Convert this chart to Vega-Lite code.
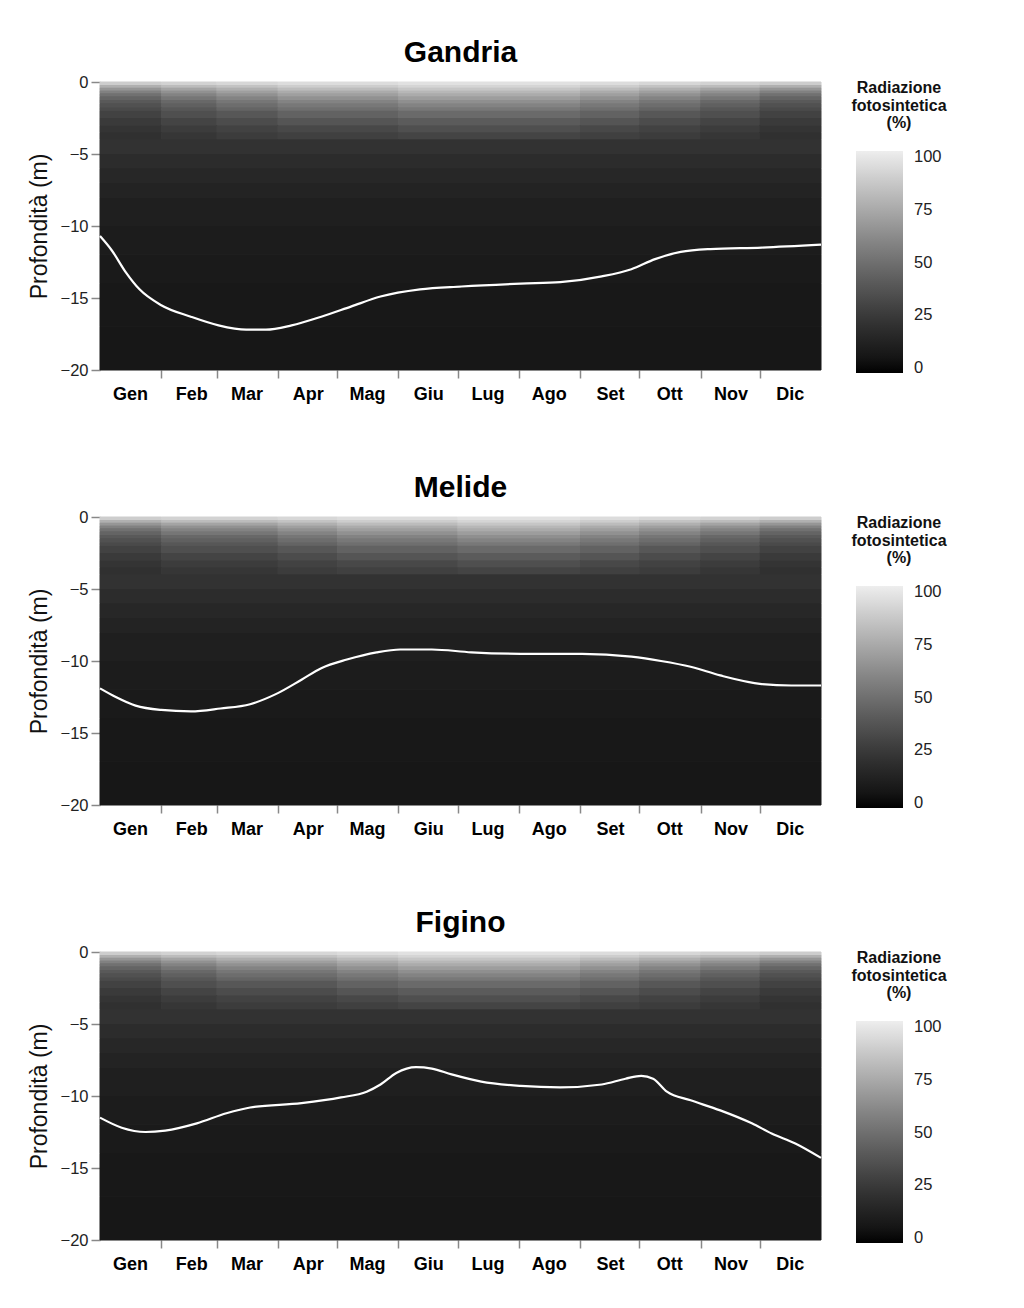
{
"$schema": "https://vega.github.io/schema/vega-lite/v6.json",
"padding": {"left": 28, "top": 38, "right": 5, "bottom": 5},
"background": "white",
"config": {
  "font": "Liberation Sans",
  "view": {"stroke": null},
  "axis": {"grid": false, "domain": false, "tickColor": "#888888", "tickWidth": 1.5},
  "title": {"fontSize": 30, "fontWeight": "bold", "font": "Liberation Sans", "anchor": "middle", "frame": "group", "offset": 6, "color": "#000000"}
},
"datasets": {
"heatG": [
{"day":0,"day2":31,"depth":0,"depth2":-0.2,"v":90},{"day":0,"day2":31,"depth":-0.2,"depth2":-0.4,"v":78},{"day":0,"day2":31,"depth":-0.4,"depth2":-0.6,"v":67},{"day":0,"day2":31,"depth":-0.6,"depth2":-0.8,"v":58},{"day":0,"day2":31,"depth":-0.8,"depth2":-1,"v":51},{"day":0,"day2":31,"depth":-1,"depth2":-1.25,"v":45},{"day":0,"day2":31,"depth":-1.25,"depth2":-1.5,"v":40},{"day":0,"day2":31,"depth":-1.5,"depth2":-1.75,"v":36},{"day":0,"day2":31,"depth":-1.75,"depth2":-2,"v":33},{"day":0,"day2":31,"depth":-2,"depth2":-2.5,"v":29},{"day":0,"day2":31,"depth":-2.5,"depth2":-3,"v":25},{"day":0,"day2":31,"depth":-3,"depth2":-3.5,"v":22},{"day":0,"day2":31,"depth":-3.5,"depth2":-4,"v":20},
{"day":31,"day2":59,"depth":0,"depth2":-0.2,"v":92},{"day":31,"day2":59,"depth":-0.2,"depth2":-0.4,"v":83},{"day":31,"day2":59,"depth":-0.4,"depth2":-0.6,"v":73},{"day":31,"day2":59,"depth":-0.6,"depth2":-0.8,"v":65},{"day":31,"day2":59,"depth":-0.8,"depth2":-1,"v":59},{"day":31,"day2":59,"depth":-1,"depth2":-1.25,"v":53},{"day":31,"day2":59,"depth":-1.25,"depth2":-1.5,"v":47},{"day":31,"day2":59,"depth":-1.5,"depth2":-1.75,"v":43},{"day":31,"day2":59,"depth":-1.75,"depth2":-2,"v":39},{"day":31,"day2":59,"depth":-2,"depth2":-2.5,"v":35},{"day":31,"day2":59,"depth":-2.5,"depth2":-3,"v":30},{"day":31,"day2":59,"depth":-3,"depth2":-3.5,"v":26},{"day":31,"day2":59,"depth":-3.5,"depth2":-4,"v":23},
{"day":59,"day2":90,"depth":0,"depth2":-0.2,"v":94},{"day":59,"day2":90,"depth":-0.2,"depth2":-0.4,"v":86},{"day":59,"day2":90,"depth":-0.4,"depth2":-0.6,"v":78},{"day":59,"day2":90,"depth":-0.6,"depth2":-0.8,"v":71},{"day":59,"day2":90,"depth":-0.8,"depth2":-1,"v":65},{"day":59,"day2":90,"depth":-1,"depth2":-1.25,"v":59},{"day":59,"day2":90,"depth":-1.25,"depth2":-1.5,"v":53},{"day":59,"day2":90,"depth":-1.5,"depth2":-1.75,"v":49},{"day":59,"day2":90,"depth":-1.75,"depth2":-2,"v":45},{"day":59,"day2":90,"depth":-2,"depth2":-2.5,"v":39},{"day":59,"day2":90,"depth":-2.5,"depth2":-3,"v":34},{"day":59,"day2":90,"depth":-3,"depth2":-3.5,"v":29},{"day":59,"day2":90,"depth":-3.5,"depth2":-4,"v":26},
{"day":90,"day2":151,"depth":0,"depth2":-0.2,"v":96},{"day":90,"day2":151,"depth":-0.2,"depth2":-0.4,"v":90},{"day":90,"day2":151,"depth":-0.4,"depth2":-0.6,"v":83},{"day":90,"day2":151,"depth":-0.6,"depth2":-0.8,"v":76},{"day":90,"day2":151,"depth":-0.8,"depth2":-1,"v":71},{"day":90,"day2":151,"depth":-1,"depth2":-1.25,"v":65},{"day":90,"day2":151,"depth":-1.25,"depth2":-1.5,"v":59},{"day":90,"day2":151,"depth":-1.5,"depth2":-1.75,"v":54},{"day":90,"day2":151,"depth":-1.75,"depth2":-2,"v":50},{"day":90,"day2":151,"depth":-2,"depth2":-2.5,"v":44},{"day":90,"day2":151,"depth":-2.5,"depth2":-3,"v":38},{"day":90,"day2":151,"depth":-3,"depth2":-3.5,"v":32},{"day":90,"day2":151,"depth":-3.5,"depth2":-4,"v":28},
{"day":151,"day2":243,"depth":0,"depth2":-0.2,"v":98},{"day":151,"day2":243,"depth":-0.2,"depth2":-0.4,"v":93},{"day":151,"day2":243,"depth":-0.4,"depth2":-0.6,"v":87},{"day":151,"day2":243,"depth":-0.6,"depth2":-0.8,"v":81},{"day":151,"day2":243,"depth":-0.8,"depth2":-1,"v":76},{"day":151,"day2":243,"depth":-1,"depth2":-1.25,"v":70},{"day":151,"day2":243,"depth":-1.25,"depth2":-1.5,"v":64},{"day":151,"day2":243,"depth":-1.5,"depth2":-1.75,"v":59},{"day":151,"day2":243,"depth":-1.75,"depth2":-2,"v":54},{"day":151,"day2":243,"depth":-2,"depth2":-2.5,"v":48},{"day":151,"day2":243,"depth":-2.5,"depth2":-3,"v":41},{"day":151,"day2":243,"depth":-3,"depth2":-3.5,"v":35},{"day":151,"day2":243,"depth":-3.5,"depth2":-4,"v":30},
{"day":243,"day2":273,"depth":0,"depth2":-0.2,"v":96},{"day":243,"day2":273,"depth":-0.2,"depth2":-0.4,"v":90},{"day":243,"day2":273,"depth":-0.4,"depth2":-0.6,"v":83},{"day":243,"day2":273,"depth":-0.6,"depth2":-0.8,"v":76},{"day":243,"day2":273,"depth":-0.8,"depth2":-1,"v":71},{"day":243,"day2":273,"depth":-1,"depth2":-1.25,"v":65},{"day":243,"day2":273,"depth":-1.25,"depth2":-1.5,"v":59},{"day":243,"day2":273,"depth":-1.5,"depth2":-1.75,"v":54},{"day":243,"day2":273,"depth":-1.75,"depth2":-2,"v":50},{"day":243,"day2":273,"depth":-2,"depth2":-2.5,"v":44},{"day":243,"day2":273,"depth":-2.5,"depth2":-3,"v":38},{"day":243,"day2":273,"depth":-3,"depth2":-3.5,"v":32},{"day":243,"day2":273,"depth":-3.5,"depth2":-4,"v":28},
{"day":273,"day2":304,"depth":0,"depth2":-0.2,"v":94},{"day":273,"day2":304,"depth":-0.2,"depth2":-0.4,"v":86},{"day":273,"day2":304,"depth":-0.4,"depth2":-0.6,"v":78},{"day":273,"day2":304,"depth":-0.6,"depth2":-0.8,"v":71},{"day":273,"day2":304,"depth":-0.8,"depth2":-1,"v":65},{"day":273,"day2":304,"depth":-1,"depth2":-1.25,"v":59},{"day":273,"day2":304,"depth":-1.25,"depth2":-1.5,"v":53},{"day":273,"day2":304,"depth":-1.5,"depth2":-1.75,"v":49},{"day":273,"day2":304,"depth":-1.75,"depth2":-2,"v":45},{"day":273,"day2":304,"depth":-2,"depth2":-2.5,"v":39},{"day":273,"day2":304,"depth":-2.5,"depth2":-3,"v":34},{"day":273,"day2":304,"depth":-3,"depth2":-3.5,"v":29},{"day":273,"day2":304,"depth":-3.5,"depth2":-4,"v":26},
{"day":304,"day2":334,"depth":0,"depth2":-0.2,"v":92},{"day":304,"day2":334,"depth":-0.2,"depth2":-0.4,"v":83},{"day":304,"day2":334,"depth":-0.4,"depth2":-0.6,"v":73},{"day":304,"day2":334,"depth":-0.6,"depth2":-0.8,"v":65},{"day":304,"day2":334,"depth":-0.8,"depth2":-1,"v":59},{"day":304,"day2":334,"depth":-1,"depth2":-1.25,"v":53},{"day":304,"day2":334,"depth":-1.25,"depth2":-1.5,"v":47},{"day":304,"day2":334,"depth":-1.5,"depth2":-1.75,"v":43},{"day":304,"day2":334,"depth":-1.75,"depth2":-2,"v":39},{"day":304,"day2":334,"depth":-2,"depth2":-2.5,"v":35},{"day":304,"day2":334,"depth":-2.5,"depth2":-3,"v":30},{"day":304,"day2":334,"depth":-3,"depth2":-3.5,"v":26},{"day":304,"day2":334,"depth":-3.5,"depth2":-4,"v":23},
{"day":334,"day2":365,"depth":0,"depth2":-0.2,"v":90},{"day":334,"day2":365,"depth":-0.2,"depth2":-0.4,"v":78},{"day":334,"day2":365,"depth":-0.4,"depth2":-0.6,"v":67},{"day":334,"day2":365,"depth":-0.6,"depth2":-0.8,"v":58},{"day":334,"day2":365,"depth":-0.8,"depth2":-1,"v":51},{"day":334,"day2":365,"depth":-1,"depth2":-1.25,"v":45},{"day":334,"day2":365,"depth":-1.25,"depth2":-1.5,"v":40},{"day":334,"day2":365,"depth":-1.5,"depth2":-1.75,"v":36},{"day":334,"day2":365,"depth":-1.75,"depth2":-2,"v":33},{"day":334,"day2":365,"depth":-2,"depth2":-2.5,"v":29},{"day":334,"day2":365,"depth":-2.5,"depth2":-3,"v":25},{"day":334,"day2":365,"depth":-3,"depth2":-3.5,"v":22},{"day":334,"day2":365,"depth":-3.5,"depth2":-4,"v":20},
{"day":0,"day2":365,"depth":-4,"depth2":-5,"v":21},{"day":0,"day2":365,"depth":-5,"depth2":-6,"v":18},{"day":0,"day2":365,"depth":-6,"depth2":-7,"v":15},{"day":0,"day2":365,"depth":-7,"depth2":-8,"v":13},{"day":0,"day2":365,"depth":-8,"depth2":-10,"v":11},{"day":0,"day2":365,"depth":-10,"depth2":-12,"v":9},{"day":0,"day2":365,"depth":-12,"depth2":-14,"v":8},{"day":0,"day2":365,"depth":-14,"depth2":-17,"v":7},{"day":0,"day2":365,"depth":-17,"depth2":-20,"v":6}
],
"heatM": [
{"day":0,"day2":31,"depth":0,"depth2":-0.2,"v":90},{"day":0,"day2":31,"depth":-0.2,"depth2":-0.4,"v":78},{"day":0,"day2":31,"depth":-0.4,"depth2":-0.6,"v":67},{"day":0,"day2":31,"depth":-0.6,"depth2":-0.8,"v":58},{"day":0,"day2":31,"depth":-0.8,"depth2":-1,"v":51},{"day":0,"day2":31,"depth":-1,"depth2":-1.25,"v":45},{"day":0,"day2":31,"depth":-1.25,"depth2":-1.5,"v":40},{"day":0,"day2":31,"depth":-1.5,"depth2":-1.75,"v":36},{"day":0,"day2":31,"depth":-1.75,"depth2":-2,"v":33},{"day":0,"day2":31,"depth":-2,"depth2":-2.5,"v":29},{"day":0,"day2":31,"depth":-2.5,"depth2":-3,"v":25},{"day":0,"day2":31,"depth":-3,"depth2":-3.5,"v":22},{"day":0,"day2":31,"depth":-3.5,"depth2":-4,"v":20},
{"day":31,"day2":90,"depth":0,"depth2":-0.2,"v":92},{"day":31,"day2":90,"depth":-0.2,"depth2":-0.4,"v":83},{"day":31,"day2":90,"depth":-0.4,"depth2":-0.6,"v":73},{"day":31,"day2":90,"depth":-0.6,"depth2":-0.8,"v":65},{"day":31,"day2":90,"depth":-0.8,"depth2":-1,"v":59},{"day":31,"day2":90,"depth":-1,"depth2":-1.25,"v":53},{"day":31,"day2":90,"depth":-1.25,"depth2":-1.5,"v":47},{"day":31,"day2":90,"depth":-1.5,"depth2":-1.75,"v":43},{"day":31,"day2":90,"depth":-1.75,"depth2":-2,"v":39},{"day":31,"day2":90,"depth":-2,"depth2":-2.5,"v":35},{"day":31,"day2":90,"depth":-2.5,"depth2":-3,"v":30},{"day":31,"day2":90,"depth":-3,"depth2":-3.5,"v":26},{"day":31,"day2":90,"depth":-3.5,"depth2":-4,"v":23},
{"day":90,"day2":120,"depth":0,"depth2":-0.2,"v":94},{"day":90,"day2":120,"depth":-0.2,"depth2":-0.4,"v":86},{"day":90,"day2":120,"depth":-0.4,"depth2":-0.6,"v":78},{"day":90,"day2":120,"depth":-0.6,"depth2":-0.8,"v":71},{"day":90,"day2":120,"depth":-0.8,"depth2":-1,"v":65},{"day":90,"day2":120,"depth":-1,"depth2":-1.25,"v":59},{"day":90,"day2":120,"depth":-1.25,"depth2":-1.5,"v":53},{"day":90,"day2":120,"depth":-1.5,"depth2":-1.75,"v":49},{"day":90,"day2":120,"depth":-1.75,"depth2":-2,"v":45},{"day":90,"day2":120,"depth":-2,"depth2":-2.5,"v":39},{"day":90,"day2":120,"depth":-2.5,"depth2":-3,"v":34},{"day":90,"day2":120,"depth":-3,"depth2":-3.5,"v":29},{"day":90,"day2":120,"depth":-3.5,"depth2":-4,"v":26},
{"day":120,"day2":181,"depth":0,"depth2":-0.2,"v":96},{"day":120,"day2":181,"depth":-0.2,"depth2":-0.4,"v":90},{"day":120,"day2":181,"depth":-0.4,"depth2":-0.6,"v":83},{"day":120,"day2":181,"depth":-0.6,"depth2":-0.8,"v":76},{"day":120,"day2":181,"depth":-0.8,"depth2":-1,"v":71},{"day":120,"day2":181,"depth":-1,"depth2":-1.25,"v":65},{"day":120,"day2":181,"depth":-1.25,"depth2":-1.5,"v":59},{"day":120,"day2":181,"depth":-1.5,"depth2":-1.75,"v":54},{"day":120,"day2":181,"depth":-1.75,"depth2":-2,"v":50},{"day":120,"day2":181,"depth":-2,"depth2":-2.5,"v":44},{"day":120,"day2":181,"depth":-2.5,"depth2":-3,"v":38},{"day":120,"day2":181,"depth":-3,"depth2":-3.5,"v":32},{"day":120,"day2":181,"depth":-3.5,"depth2":-4,"v":28},
{"day":181,"day2":243,"depth":0,"depth2":-0.2,"v":98},{"day":181,"day2":243,"depth":-0.2,"depth2":-0.4,"v":93},{"day":181,"day2":243,"depth":-0.4,"depth2":-0.6,"v":87},{"day":181,"day2":243,"depth":-0.6,"depth2":-0.8,"v":81},{"day":181,"day2":243,"depth":-0.8,"depth2":-1,"v":76},{"day":181,"day2":243,"depth":-1,"depth2":-1.25,"v":70},{"day":181,"day2":243,"depth":-1.25,"depth2":-1.5,"v":64},{"day":181,"day2":243,"depth":-1.5,"depth2":-1.75,"v":59},{"day":181,"day2":243,"depth":-1.75,"depth2":-2,"v":54},{"day":181,"day2":243,"depth":-2,"depth2":-2.5,"v":48},{"day":181,"day2":243,"depth":-2.5,"depth2":-3,"v":41},{"day":181,"day2":243,"depth":-3,"depth2":-3.5,"v":35},{"day":181,"day2":243,"depth":-3.5,"depth2":-4,"v":30},
{"day":243,"day2":273,"depth":0,"depth2":-0.2,"v":96},{"day":243,"day2":273,"depth":-0.2,"depth2":-0.4,"v":90},{"day":243,"day2":273,"depth":-0.4,"depth2":-0.6,"v":83},{"day":243,"day2":273,"depth":-0.6,"depth2":-0.8,"v":76},{"day":243,"day2":273,"depth":-0.8,"depth2":-1,"v":71},{"day":243,"day2":273,"depth":-1,"depth2":-1.25,"v":65},{"day":243,"day2":273,"depth":-1.25,"depth2":-1.5,"v":59},{"day":243,"day2":273,"depth":-1.5,"depth2":-1.75,"v":54},{"day":243,"day2":273,"depth":-1.75,"depth2":-2,"v":50},{"day":243,"day2":273,"depth":-2,"depth2":-2.5,"v":44},{"day":243,"day2":273,"depth":-2.5,"depth2":-3,"v":38},{"day":243,"day2":273,"depth":-3,"depth2":-3.5,"v":32},{"day":243,"day2":273,"depth":-3.5,"depth2":-4,"v":28},
{"day":273,"day2":304,"depth":0,"depth2":-0.2,"v":94},{"day":273,"day2":304,"depth":-0.2,"depth2":-0.4,"v":86},{"day":273,"day2":304,"depth":-0.4,"depth2":-0.6,"v":78},{"day":273,"day2":304,"depth":-0.6,"depth2":-0.8,"v":71},{"day":273,"day2":304,"depth":-0.8,"depth2":-1,"v":65},{"day":273,"day2":304,"depth":-1,"depth2":-1.25,"v":59},{"day":273,"day2":304,"depth":-1.25,"depth2":-1.5,"v":53},{"day":273,"day2":304,"depth":-1.5,"depth2":-1.75,"v":49},{"day":273,"day2":304,"depth":-1.75,"depth2":-2,"v":45},{"day":273,"day2":304,"depth":-2,"depth2":-2.5,"v":39},{"day":273,"day2":304,"depth":-2.5,"depth2":-3,"v":34},{"day":273,"day2":304,"depth":-3,"depth2":-3.5,"v":29},{"day":273,"day2":304,"depth":-3.5,"depth2":-4,"v":26},
{"day":304,"day2":334,"depth":0,"depth2":-0.2,"v":92},{"day":304,"day2":334,"depth":-0.2,"depth2":-0.4,"v":83},{"day":304,"day2":334,"depth":-0.4,"depth2":-0.6,"v":73},{"day":304,"day2":334,"depth":-0.6,"depth2":-0.8,"v":65},{"day":304,"day2":334,"depth":-0.8,"depth2":-1,"v":59},{"day":304,"day2":334,"depth":-1,"depth2":-1.25,"v":53},{"day":304,"day2":334,"depth":-1.25,"depth2":-1.5,"v":47},{"day":304,"day2":334,"depth":-1.5,"depth2":-1.75,"v":43},{"day":304,"day2":334,"depth":-1.75,"depth2":-2,"v":39},{"day":304,"day2":334,"depth":-2,"depth2":-2.5,"v":35},{"day":304,"day2":334,"depth":-2.5,"depth2":-3,"v":30},{"day":304,"day2":334,"depth":-3,"depth2":-3.5,"v":26},{"day":304,"day2":334,"depth":-3.5,"depth2":-4,"v":23},
{"day":334,"day2":365,"depth":0,"depth2":-0.2,"v":90},{"day":334,"day2":365,"depth":-0.2,"depth2":-0.4,"v":78},{"day":334,"day2":365,"depth":-0.4,"depth2":-0.6,"v":67},{"day":334,"day2":365,"depth":-0.6,"depth2":-0.8,"v":58},{"day":334,"day2":365,"depth":-0.8,"depth2":-1,"v":51},{"day":334,"day2":365,"depth":-1,"depth2":-1.25,"v":45},{"day":334,"day2":365,"depth":-1.25,"depth2":-1.5,"v":40},{"day":334,"day2":365,"depth":-1.5,"depth2":-1.75,"v":36},{"day":334,"day2":365,"depth":-1.75,"depth2":-2,"v":33},{"day":334,"day2":365,"depth":-2,"depth2":-2.5,"v":29},{"day":334,"day2":365,"depth":-2.5,"depth2":-3,"v":25},{"day":334,"day2":365,"depth":-3,"depth2":-3.5,"v":22},{"day":334,"day2":365,"depth":-3.5,"depth2":-4,"v":20},
{"day":0,"day2":365,"depth":-4,"depth2":-5,"v":21},{"day":0,"day2":365,"depth":-5,"depth2":-6,"v":18},{"day":0,"day2":365,"depth":-6,"depth2":-7,"v":15},{"day":0,"day2":365,"depth":-7,"depth2":-8,"v":13},{"day":0,"day2":365,"depth":-8,"depth2":-10,"v":11},{"day":0,"day2":365,"depth":-10,"depth2":-12,"v":9},{"day":0,"day2":365,"depth":-12,"depth2":-14,"v":8},{"day":0,"day2":365,"depth":-14,"depth2":-17,"v":7},{"day":0,"day2":365,"depth":-17,"depth2":-20,"v":6}
],
"heatF": [
{"day":0,"day2":31,"depth":0,"depth2":-0.2,"v":90},{"day":0,"day2":31,"depth":-0.2,"depth2":-0.4,"v":78},{"day":0,"day2":31,"depth":-0.4,"depth2":-0.6,"v":67},{"day":0,"day2":31,"depth":-0.6,"depth2":-0.8,"v":58},{"day":0,"day2":31,"depth":-0.8,"depth2":-1,"v":51},{"day":0,"day2":31,"depth":-1,"depth2":-1.25,"v":45},{"day":0,"day2":31,"depth":-1.25,"depth2":-1.5,"v":40},{"day":0,"day2":31,"depth":-1.5,"depth2":-1.75,"v":36},{"day":0,"day2":31,"depth":-1.75,"depth2":-2,"v":33},{"day":0,"day2":31,"depth":-2,"depth2":-2.5,"v":29},{"day":0,"day2":31,"depth":-2.5,"depth2":-3,"v":25},{"day":0,"day2":31,"depth":-3,"depth2":-3.5,"v":22},{"day":0,"day2":31,"depth":-3.5,"depth2":-4,"v":20},
{"day":31,"day2":59,"depth":0,"depth2":-0.2,"v":92},{"day":31,"day2":59,"depth":-0.2,"depth2":-0.4,"v":83},{"day":31,"day2":59,"depth":-0.4,"depth2":-0.6,"v":73},{"day":31,"day2":59,"depth":-0.6,"depth2":-0.8,"v":65},{"day":31,"day2":59,"depth":-0.8,"depth2":-1,"v":59},{"day":31,"day2":59,"depth":-1,"depth2":-1.25,"v":53},{"day":31,"day2":59,"depth":-1.25,"depth2":-1.5,"v":47},{"day":31,"day2":59,"depth":-1.5,"depth2":-1.75,"v":43},{"day":31,"day2":59,"depth":-1.75,"depth2":-2,"v":39},{"day":31,"day2":59,"depth":-2,"depth2":-2.5,"v":35},{"day":31,"day2":59,"depth":-2.5,"depth2":-3,"v":30},{"day":31,"day2":59,"depth":-3,"depth2":-3.5,"v":26},{"day":31,"day2":59,"depth":-3.5,"depth2":-4,"v":23},
{"day":59,"day2":120,"depth":0,"depth2":-0.2,"v":94},{"day":59,"day2":120,"depth":-0.2,"depth2":-0.4,"v":86},{"day":59,"day2":120,"depth":-0.4,"depth2":-0.6,"v":78},{"day":59,"day2":120,"depth":-0.6,"depth2":-0.8,"v":71},{"day":59,"day2":120,"depth":-0.8,"depth2":-1,"v":65},{"day":59,"day2":120,"depth":-1,"depth2":-1.25,"v":59},{"day":59,"day2":120,"depth":-1.25,"depth2":-1.5,"v":53},{"day":59,"day2":120,"depth":-1.5,"depth2":-1.75,"v":49},{"day":59,"day2":120,"depth":-1.75,"depth2":-2,"v":45},{"day":59,"day2":120,"depth":-2,"depth2":-2.5,"v":39},{"day":59,"day2":120,"depth":-2.5,"depth2":-3,"v":34},{"day":59,"day2":120,"depth":-3,"depth2":-3.5,"v":29},{"day":59,"day2":120,"depth":-3.5,"depth2":-4,"v":26},
{"day":120,"day2":151,"depth":0,"depth2":-0.2,"v":96},{"day":120,"day2":151,"depth":-0.2,"depth2":-0.4,"v":90},{"day":120,"day2":151,"depth":-0.4,"depth2":-0.6,"v":83},{"day":120,"day2":151,"depth":-0.6,"depth2":-0.8,"v":76},{"day":120,"day2":151,"depth":-0.8,"depth2":-1,"v":71},{"day":120,"day2":151,"depth":-1,"depth2":-1.25,"v":65},{"day":120,"day2":151,"depth":-1.25,"depth2":-1.5,"v":59},{"day":120,"day2":151,"depth":-1.5,"depth2":-1.75,"v":54},{"day":120,"day2":151,"depth":-1.75,"depth2":-2,"v":50},{"day":120,"day2":151,"depth":-2,"depth2":-2.5,"v":44},{"day":120,"day2":151,"depth":-2.5,"depth2":-3,"v":38},{"day":120,"day2":151,"depth":-3,"depth2":-3.5,"v":32},{"day":120,"day2":151,"depth":-3.5,"depth2":-4,"v":28},
{"day":151,"day2":243,"depth":0,"depth2":-0.2,"v":98},{"day":151,"day2":243,"depth":-0.2,"depth2":-0.4,"v":93},{"day":151,"day2":243,"depth":-0.4,"depth2":-0.6,"v":87},{"day":151,"day2":243,"depth":-0.6,"depth2":-0.8,"v":81},{"day":151,"day2":243,"depth":-0.8,"depth2":-1,"v":76},{"day":151,"day2":243,"depth":-1,"depth2":-1.25,"v":70},{"day":151,"day2":243,"depth":-1.25,"depth2":-1.5,"v":64},{"day":151,"day2":243,"depth":-1.5,"depth2":-1.75,"v":59},{"day":151,"day2":243,"depth":-1.75,"depth2":-2,"v":54},{"day":151,"day2":243,"depth":-2,"depth2":-2.5,"v":48},{"day":151,"day2":243,"depth":-2.5,"depth2":-3,"v":41},{"day":151,"day2":243,"depth":-3,"depth2":-3.5,"v":35},{"day":151,"day2":243,"depth":-3.5,"depth2":-4,"v":30},
{"day":243,"day2":273,"depth":0,"depth2":-0.2,"v":96},{"day":243,"day2":273,"depth":-0.2,"depth2":-0.4,"v":90},{"day":243,"day2":273,"depth":-0.4,"depth2":-0.6,"v":83},{"day":243,"day2":273,"depth":-0.6,"depth2":-0.8,"v":76},{"day":243,"day2":273,"depth":-0.8,"depth2":-1,"v":71},{"day":243,"day2":273,"depth":-1,"depth2":-1.25,"v":65},{"day":243,"day2":273,"depth":-1.25,"depth2":-1.5,"v":59},{"day":243,"day2":273,"depth":-1.5,"depth2":-1.75,"v":54},{"day":243,"day2":273,"depth":-1.75,"depth2":-2,"v":50},{"day":243,"day2":273,"depth":-2,"depth2":-2.5,"v":44},{"day":243,"day2":273,"depth":-2.5,"depth2":-3,"v":38},{"day":243,"day2":273,"depth":-3,"depth2":-3.5,"v":32},{"day":243,"day2":273,"depth":-3.5,"depth2":-4,"v":28},
{"day":273,"day2":304,"depth":0,"depth2":-0.2,"v":94},{"day":273,"day2":304,"depth":-0.2,"depth2":-0.4,"v":86},{"day":273,"day2":304,"depth":-0.4,"depth2":-0.6,"v":78},{"day":273,"day2":304,"depth":-0.6,"depth2":-0.8,"v":71},{"day":273,"day2":304,"depth":-0.8,"depth2":-1,"v":65},{"day":273,"day2":304,"depth":-1,"depth2":-1.25,"v":59},{"day":273,"day2":304,"depth":-1.25,"depth2":-1.5,"v":53},{"day":273,"day2":304,"depth":-1.5,"depth2":-1.75,"v":49},{"day":273,"day2":304,"depth":-1.75,"depth2":-2,"v":45},{"day":273,"day2":304,"depth":-2,"depth2":-2.5,"v":39},{"day":273,"day2":304,"depth":-2.5,"depth2":-3,"v":34},{"day":273,"day2":304,"depth":-3,"depth2":-3.5,"v":29},{"day":273,"day2":304,"depth":-3.5,"depth2":-4,"v":26},
{"day":304,"day2":334,"depth":0,"depth2":-0.2,"v":92},{"day":304,"day2":334,"depth":-0.2,"depth2":-0.4,"v":83},{"day":304,"day2":334,"depth":-0.4,"depth2":-0.6,"v":73},{"day":304,"day2":334,"depth":-0.6,"depth2":-0.8,"v":65},{"day":304,"day2":334,"depth":-0.8,"depth2":-1,"v":59},{"day":304,"day2":334,"depth":-1,"depth2":-1.25,"v":53},{"day":304,"day2":334,"depth":-1.25,"depth2":-1.5,"v":47},{"day":304,"day2":334,"depth":-1.5,"depth2":-1.75,"v":43},{"day":304,"day2":334,"depth":-1.75,"depth2":-2,"v":39},{"day":304,"day2":334,"depth":-2,"depth2":-2.5,"v":35},{"day":304,"day2":334,"depth":-2.5,"depth2":-3,"v":30},{"day":304,"day2":334,"depth":-3,"depth2":-3.5,"v":26},{"day":304,"day2":334,"depth":-3.5,"depth2":-4,"v":23},
{"day":334,"day2":365,"depth":0,"depth2":-0.2,"v":90},{"day":334,"day2":365,"depth":-0.2,"depth2":-0.4,"v":78},{"day":334,"day2":365,"depth":-0.4,"depth2":-0.6,"v":67},{"day":334,"day2":365,"depth":-0.6,"depth2":-0.8,"v":58},{"day":334,"day2":365,"depth":-0.8,"depth2":-1,"v":51},{"day":334,"day2":365,"depth":-1,"depth2":-1.25,"v":45},{"day":334,"day2":365,"depth":-1.25,"depth2":-1.5,"v":40},{"day":334,"day2":365,"depth":-1.5,"depth2":-1.75,"v":36},{"day":334,"day2":365,"depth":-1.75,"depth2":-2,"v":33},{"day":334,"day2":365,"depth":-2,"depth2":-2.5,"v":29},{"day":334,"day2":365,"depth":-2.5,"depth2":-3,"v":25},{"day":334,"day2":365,"depth":-3,"depth2":-3.5,"v":22},{"day":334,"day2":365,"depth":-3.5,"depth2":-4,"v":20},
{"day":0,"day2":365,"depth":-4,"depth2":-5,"v":21},{"day":0,"day2":365,"depth":-5,"depth2":-6,"v":18},{"day":0,"day2":365,"depth":-6,"depth2":-7,"v":15},{"day":0,"day2":365,"depth":-7,"depth2":-8,"v":13},{"day":0,"day2":365,"depth":-8,"depth2":-10,"v":11},{"day":0,"day2":365,"depth":-10,"depth2":-12,"v":9},{"day":0,"day2":365,"depth":-12,"depth2":-14,"v":8},{"day":0,"day2":365,"depth":-14,"depth2":-17,"v":7},{"day":0,"day2":365,"depth":-17,"depth2":-20,"v":6}
],
"lines": [
{"s":"Gandria","day":0,"depth":-10.7},{"s":"Gandria","day":6,"depth":-11.7},{"s":"Gandria","day":13,"depth":-13.2},{"s":"Gandria","day":20,"depth":-14.4},{"s":"Gandria","day":31,"depth":-15.5},{"s":"Gandria","day":46,"depth":-16.3},{"s":"Gandria","day":60,"depth":-16.9},{"s":"Gandria","day":74,"depth":-17.2},{"s":"Gandria","day":84,"depth":-17.2},{"s":"Gandria","day":97,"depth":-16.9},{"s":"Gandria","day":112,"depth":-16.3},{"s":"Gandria","day":127,"depth":-15.6},{"s":"Gandria","day":142,"depth":-14.9},{"s":"Gandria","day":162,"depth":-14.4},{"s":"Gandria","day":183,"depth":-14.2},{"s":"Gandria","day":213,"depth":-14.0},{"s":"Gandria","day":233,"depth":-13.9},{"s":"Gandria","day":254,"depth":-13.5},{"s":"Gandria","day":269,"depth":-13.0},{"s":"Gandria","day":281,"depth":-12.3},{"s":"Gandria","day":294,"depth":-11.8},{"s":"Gandria","day":309,"depth":-11.6},{"s":"Gandria","day":335,"depth":-11.5},{"s":"Gandria","day":365,"depth":-11.3},
{"s":"Melide","day":0,"depth":-11.9},{"s":"Melide","day":8,"depth":-12.5},{"s":"Melide","day":18,"depth":-13.1},{"s":"Melide","day":31,"depth":-13.4},{"s":"Melide","day":46,"depth":-13.5},{"s":"Melide","day":61,"depth":-13.3},{"s":"Melide","day":76,"depth":-13.0},{"s":"Melide","day":89,"depth":-12.3},{"s":"Melide","day":102,"depth":-11.3},{"s":"Melide","day":112,"depth":-10.5},{"s":"Melide","day":125,"depth":-9.9},{"s":"Melide","day":140,"depth":-9.4},{"s":"Melide","day":152,"depth":-9.2},{"s":"Melide","day":168,"depth":-9.2},{"s":"Melide","day":188,"depth":-9.4},{"s":"Melide","day":213,"depth":-9.5},{"s":"Melide","day":244,"depth":-9.5},{"s":"Melide","day":269,"depth":-9.7},{"s":"Melide","day":284,"depth":-10.0},{"s":"Melide","day":299,"depth":-10.4},{"s":"Melide","day":314,"depth":-11.0},{"s":"Melide","day":335,"depth":-11.6},{"s":"Melide","day":350,"depth":-11.7},{"s":"Melide","day":365,"depth":-11.7},
{"s":"Figino","day":0,"depth":-11.5},{"s":"Figino","day":11,"depth":-12.2},{"s":"Figino","day":23,"depth":-12.5},{"s":"Figino","day":33,"depth":-12.4},{"s":"Figino","day":49,"depth":-11.9},{"s":"Figino","day":64,"depth":-11.2},{"s":"Figino","day":76,"depth":-10.8},{"s":"Figino","day":102,"depth":-10.5},{"s":"Figino","day":122,"depth":-10.1},{"s":"Figino","day":135,"depth":-9.7},{"s":"Figino","day":142,"depth":-9.2},{"s":"Figino","day":150,"depth":-8.4},{"s":"Figino","day":160,"depth":-8.0},{"s":"Figino","day":168,"depth":-8.1},{"s":"Figino","day":178,"depth":-8.5},{"s":"Figino","day":193,"depth":-9.0},{"s":"Figino","day":213,"depth":-9.3},{"s":"Figino","day":233,"depth":-9.4},{"s":"Figino","day":254,"depth":-9.2},{"s":"Figino","day":266,"depth":-8.8},{"s":"Figino","day":274,"depth":-8.6},{"s":"Figino","day":280,"depth":-8.8},{"s":"Figino","day":287,"depth":-9.7},{"s":"Figino","day":299,"depth":-10.3},{"s":"Figino","day":314,"depth":-11.0},{"s":"Figino","day":330,"depth":-11.9},{"s":"Figino","day":340,"depth":-12.6},{"s":"Figino","day":352,"depth":-13.3},{"s":"Figino","day":365,"depth":-14.3}
]
},
"spacing": 70,
"resolve": {"scale": {"color": "independent", "stroke": "independent"}, "legend": {"color": "independent", "stroke": "independent"}},
"vconcat": [
{
 "title": {"text": "Gandria"},
 "width": 721, "height": 288,
 "encoding": {
  "x": {"field": "day", "type": "quantitative", "scale": {"domain": [0, 365], "nice": false, "zero": false},
        "axis": {"values": [0,31,59,90,120,151,181,212,243,273,304,334], "labelExpr": "['Gen','Feb','Mar','Apr','Mag','Giu','Lug','Ago','Set','Ott','Nov','Dic'][indexof([0,31,59,90,120,151,181,212,243,273,304,334], datum.value)]", "labelOffset": 30, "title": null, "tickSize": 8, "tickOpacity": {"condition": {"test": "datum.value == 0", "value": 0}, "value": 1}, "labelFontWeight": "bold", "labelFontSize": 18, "labelColor": "#000000", "labelPadding": 7, "labelOverlap": false, "labelFlush": false, "labelBound": false}},
  "y": {"field": "depth", "type": "quantitative", "scale": {"domain": [-20, 0], "nice": false},
        "axis": {"values": [-20,-15,-10,-5,0], "title": "Profondità (m)", "titleFontSize": 23, "titleFontWeight": "normal", "titleColor": "#111111", "titlePadding": 9, "tickSize": 9, "labelFontSize": 16.5, "labelColor": "#222222", "labelPadding": 3}}
 },
 "layer": [
  {"data": {"name": "heatG"}, "mark": {"type": "rect", "strokeWidth": 1, "fill": null},
   "encoding": {"x2": {"field": "day2"}, "y2": {"field": "depth2"},
    "stroke": {"field": "v", "type": "quantitative", "scale": {"domain": [-2.5, 103], "range": ["#000000", "#eeeeee"]}, "legend": null}}},
  {"data": {"name": "heatG"}, "mark": {"type": "rect"},
   "encoding": {"x2": {"field": "day2"}, "y2": {"field": "depth2"},
    "color": {"field": "v", "type": "quantitative", "scale": {"domain": [-2.4, 103], "range": ["#000000", "#eeeeee"]},
      "legend": {"type": "gradient", "orient": "none", "legendX": 751, "legendY": -2, "direction": "vertical", "gradientLength": 222, "gradientThickness": 47, "values": [0,25,50,75,100], "title": ["Radiazione", "fotosintetica", "(%)"], "titleFontSize": 16, "titleFontWeight": "bold", "titleColor": "#111111", "titleAlign": "center", "titleAnchor": "middle", "titleLineHeight": 17.5, "titlePadding": 20, "labelFontSize": 16.5, "labelColor": "#222222", "labelOffset": 11, "gradientStrokeWidth": 0}}}},
  {"data": {"name": "lines"}, "transform": [{"filter": "datum.s == 'Gandria'"}], "mark": {"type": "line", "color": "#ffffff", "strokeWidth": 2.2, "interpolate": "monotone"}, "encoding": {}}
 ]
},
{
 "title": {"text": "Melide"},
 "width": 721, "height": 288,
 "encoding": {
  "x": {"field": "day", "type": "quantitative", "scale": {"domain": [0, 365], "nice": false, "zero": false},
        "axis": {"values": [0,31,59,90,120,151,181,212,243,273,304,334], "labelExpr": "['Gen','Feb','Mar','Apr','Mag','Giu','Lug','Ago','Set','Ott','Nov','Dic'][indexof([0,31,59,90,120,151,181,212,243,273,304,334], datum.value)]", "labelOffset": 30, "title": null, "tickSize": 8, "tickOpacity": {"condition": {"test": "datum.value == 0", "value": 0}, "value": 1}, "labelFontWeight": "bold", "labelFontSize": 18, "labelColor": "#000000", "labelPadding": 7, "labelOverlap": false, "labelFlush": false, "labelBound": false}},
  "y": {"field": "depth", "type": "quantitative", "scale": {"domain": [-20, 0], "nice": false},
        "axis": {"values": [-20,-15,-10,-5,0], "title": "Profondità (m)", "titleFontSize": 23, "titleFontWeight": "normal", "titleColor": "#111111", "titlePadding": 9, "tickSize": 9, "labelFontSize": 16.5, "labelColor": "#222222", "labelPadding": 3}}
 },
 "layer": [
  {"data": {"name": "heatM"}, "mark": {"type": "rect", "strokeWidth": 1, "fill": null},
   "encoding": {"x2": {"field": "day2"}, "y2": {"field": "depth2"},
    "stroke": {"field": "v", "type": "quantitative", "scale": {"domain": [-2.5, 103], "range": ["#000000", "#eeeeee"]}, "legend": null}}},
  {"data": {"name": "heatM"}, "mark": {"type": "rect"},
   "encoding": {"x2": {"field": "day2"}, "y2": {"field": "depth2"},
    "color": {"field": "v", "type": "quantitative", "scale": {"domain": [-2.4, 103], "range": ["#000000", "#eeeeee"]},
      "legend": {"type": "gradient", "orient": "none", "legendX": 751, "legendY": -2, "direction": "vertical", "gradientLength": 222, "gradientThickness": 47, "values": [0,25,50,75,100], "title": ["Radiazione", "fotosintetica", "(%)"], "titleFontSize": 16, "titleFontWeight": "bold", "titleColor": "#111111", "titleAlign": "center", "titleAnchor": "middle", "titleLineHeight": 17.5, "titlePadding": 20, "labelFontSize": 16.5, "labelColor": "#222222", "labelOffset": 11, "gradientStrokeWidth": 0}}}},
  {"data": {"name": "lines"}, "transform": [{"filter": "datum.s == 'Melide'"}], "mark": {"type": "line", "color": "#ffffff", "strokeWidth": 2.2, "interpolate": "monotone"}, "encoding": {}}
 ]
},
{
 "title": {"text": "Figino"},
 "width": 721, "height": 288,
 "encoding": {
  "x": {"field": "day", "type": "quantitative", "scale": {"domain": [0, 365], "nice": false, "zero": false},
        "axis": {"values": [0,31,59,90,120,151,181,212,243,273,304,334], "labelExpr": "['Gen','Feb','Mar','Apr','Mag','Giu','Lug','Ago','Set','Ott','Nov','Dic'][indexof([0,31,59,90,120,151,181,212,243,273,304,334], datum.value)]", "labelOffset": 30, "title": null, "tickSize": 8, "tickOpacity": {"condition": {"test": "datum.value == 0", "value": 0}, "value": 1}, "labelFontWeight": "bold", "labelFontSize": 18, "labelColor": "#000000", "labelPadding": 7, "labelOverlap": false, "labelFlush": false, "labelBound": false}},
  "y": {"field": "depth", "type": "quantitative", "scale": {"domain": [-20, 0], "nice": false},
        "axis": {"values": [-20,-15,-10,-5,0], "title": "Profondità (m)", "titleFontSize": 23, "titleFontWeight": "normal", "titleColor": "#111111", "titlePadding": 9, "tickSize": 9, "labelFontSize": 16.5, "labelColor": "#222222", "labelPadding": 3}}
 },
 "layer": [
  {"data": {"name": "heatF"}, "mark": {"type": "rect", "strokeWidth": 1, "fill": null},
   "encoding": {"x2": {"field": "day2"}, "y2": {"field": "depth2"},
    "stroke": {"field": "v", "type": "quantitative", "scale": {"domain": [-2.5, 103], "range": ["#000000", "#eeeeee"]}, "legend": null}}},
  {"data": {"name": "heatF"}, "mark": {"type": "rect"},
   "encoding": {"x2": {"field": "day2"}, "y2": {"field": "depth2"},
    "color": {"field": "v", "type": "quantitative", "scale": {"domain": [-2.4, 103], "range": ["#000000", "#eeeeee"]},
      "legend": {"type": "gradient", "orient": "none", "legendX": 751, "legendY": -2, "direction": "vertical", "gradientLength": 222, "gradientThickness": 47, "values": [0,25,50,75,100], "title": ["Radiazione", "fotosintetica", "(%)"], "titleFontSize": 16, "titleFontWeight": "bold", "titleColor": "#111111", "titleAlign": "center", "titleAnchor": "middle", "titleLineHeight": 17.5, "titlePadding": 20, "labelFontSize": 16.5, "labelColor": "#222222", "labelOffset": 11, "gradientStrokeWidth": 0}}}},
  {"data": {"name": "lines"}, "transform": [{"filter": "datum.s == 'Figino'"}], "mark": {"type": "line", "color": "#ffffff", "strokeWidth": 2.2, "interpolate": "monotone"}, "encoding": {}}
 ]
}
]
}
